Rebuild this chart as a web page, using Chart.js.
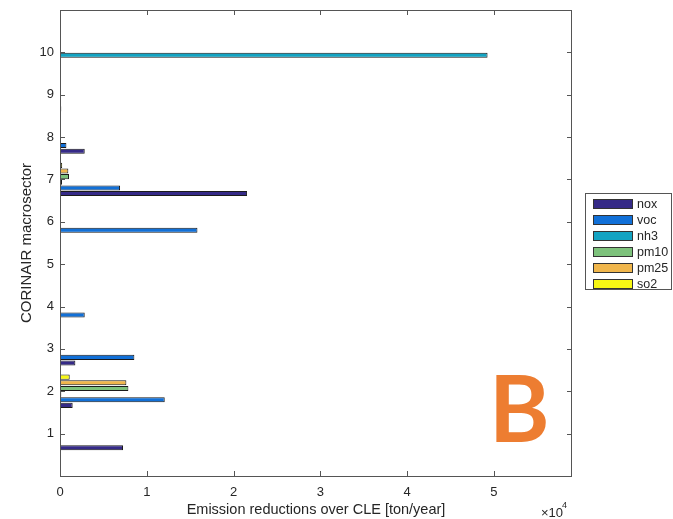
<!DOCTYPE html>
<html>
<head>
<meta charset="utf-8">
<script src="https://cdn.jsdelivr.net/npm/chart.js@4.4.0/dist/chart.umd.min.js"></script>
<style>
  html, body { margin: 0; padding: 0; background: #fff; }
  #wrap { width: 673px; height: 519px; }
</style>
</head>
<body>
<div id="wrap"><canvas id="chart" width="673" height="519"></canvas></div>
<script>
// CORINAIR macrosectors 1..10, emission reductions in ton/year
const sectors = [1, 2, 3, 4, 5, 6, 7, 8, 9, 10];
const nox  = [7260, 1460, 1770, 0, 0, 0, 21560, 2850, 150, 0];
const voc  = [120, 12070, 8570, 2850, 0, 15840, 6920, 740, 0, 0];
const nh3  = [0, 150, 0, 0, 0, 0, 230, 0, 0, 49270];
const pm10 = [0, 7880, 0, 100, 0, 0, 1040, 100, 0, 0];
const pm25 = [0, 7650, 0, 100, 0, 0, 960, 100, 0, 0];
const so2  = [100, 1120, 0, 0, 0, 0, 250, 0, 0, 0];
const xTicks = [0, 10000, 20000, 30000, 40000, 50000];

const names  = ['nox', 'voc', 'nh3', 'pm10', 'pm25', 'so2'];
const values = [nox, voc, nh3, pm10, pm25, so2];
const colors = ['#352a87', '#1170d8', '#13a3c2', '#7dc27c', '#f0b64c', '#f7f714'];

// chart.js puts the first dataset at the top of each group, matlab puts it at the bottom
const datasets = names.map((n, i) => ({
  label: n,
  data: sectors.map((s, j) => ({ x: values[i][j], y: s })),
  backgroundColor: colors[i],
  borderColor: '#1a1a1a',
  borderWidth: 1,
  borderSkipped: false,
  categoryPercentage: 0.8,
  barPercentage: 0.9
})).reverse();

const axisColor = '#262626';
const font = size => ({ family: '"Liberation Sans", Arial, sans-serif', size: size });

const matlabLook = {
  id: 'matlabLook',
  afterDraw(chart) {
    const ctx = chart.ctx;
    const a = chart.chartArea;
    ctx.save();
    // box round the axes
    ctx.strokeStyle = '#555';
    ctx.lineWidth = 1;
    ctx.strokeRect(Math.round(a.left) + 0.5, Math.round(a.top) + 0.5,
      Math.round(a.right - a.left) - 1, Math.round(a.bottom - a.top));
    // inward ticks on all four sides
    ctx.beginPath();
    xTicks.forEach(v => {
      const px = Math.round(chart.scales.x.getPixelForValue(v)) + 0.5;
      ctx.moveTo(px, a.bottom); ctx.lineTo(px, a.bottom - 5);
      ctx.moveTo(px, a.top); ctx.lineTo(px, a.top + 5);
    });
    sectors.forEach(v => {
      const py = Math.round(chart.scales.y.getPixelForValue(v)) + 0.5;
      ctx.moveTo(a.left, py); ctx.lineTo(a.left + 5, py);
      ctx.moveTo(a.right, py); ctx.lineTo(a.right - 5, py);
    });
    ctx.stroke();

    // exponent label
    ctx.fillStyle = axisColor;
    ctx.textBaseline = 'middle';
    ctx.textAlign = 'left';
    ctx.font = '13px "Liberation Sans", Arial, sans-serif';
    ctx.fillText('\u00d710', 541, 513);
    ctx.font = '9px "Liberation Sans", Arial, sans-serif';
    ctx.fillText('4', 562, 506);

    // legend with a box, nox first
    const lx = 585, ly = 193, lw = 87, lh = 97;
    ctx.fillStyle = '#fff';
    ctx.fillRect(lx, ly, lw, lh);
    ctx.strokeStyle = '#555';
    ctx.strokeRect(lx + 0.5, ly + 0.5, lw - 1, lh - 1);
    ctx.font = '12.5px "Liberation Sans", Arial, sans-serif';
    names.forEach((n, i) => {
      const cy = ly + 11 + i * 16;
      ctx.fillStyle = colors[i];
      ctx.fillRect(593, cy - 5, 40, 10);
      ctx.strokeStyle = '#333';
      ctx.strokeRect(593.5, cy - 4.5, 39, 9);
      ctx.fillStyle = axisColor;
      ctx.fillText(n, 637, cy + 0.5);
    });

    // panel letter
    ctx.fillStyle = '#ed7d31';
    ctx.font = 'bold 92px Lato, sans-serif';
    ctx.textBaseline = 'alphabetic';
    ctx.fillText('B', 489, 442);
    ctx.restore();
  }
};

new Chart(document.getElementById('chart'), {
  type: 'bar',
  data: { datasets: datasets },
  options: {
    indexAxis: 'y',
    responsive: false,
    devicePixelRatio: 1,
    animation: false,
    layout: { padding: { top: 10, right: 101, bottom: 0, left: 0 } },
    plugins: { legend: { display: false }, tooltip: { enabled: false } },
    scales: {
      x: {
        type: 'linear',
        min: 0,
        max: 59000,
        grid: { display: false, drawTicks: false },
        border: { display: false },
        afterBuildTicks: s => { s.ticks = xTicks.map(v => ({ value: v })); },
        ticks: {
          autoSkip: false,
          padding: 9,
          color: axisColor,
          font: font(13),
          maxRotation: 0,
          callback: v => String(v / 10000)
        },
        title: {
          display: true,
          text: 'Emission reductions over CLE [ton/year]',
          color: axisColor,
          font: font(14.5),
          padding: { top: 4, bottom: 0 }
        },
        afterFit: s => { s.height = 43; s.paddingLeft = 0; s.paddingRight = 0; }
      },
      y: {
        type: 'linear',
        min: 0,
        max: 11,
        offset: false,
        grid: { display: false, drawTicks: false, offset: false },
        border: { display: false },
        afterBuildTicks: s => { s.ticks = sectors.map(v => ({ value: v })); },
        ticks: {
          autoSkip: false,
          padding: 6,
          color: axisColor,
          font: font(13),
          callback: v => String(v)
        },
        title: {
          display: true,
          text: 'CORINAIR macrosector',
          color: axisColor,
          font: font(15),
          padding: { top: 18, bottom: 0 }
        },
        afterFit: s => { s.width = 60; s.paddingTop = 0; s.paddingBottom = 0; }
      }
    }
  },
  plugins: [matlabLook]
});
</script>
</body>
</html>
